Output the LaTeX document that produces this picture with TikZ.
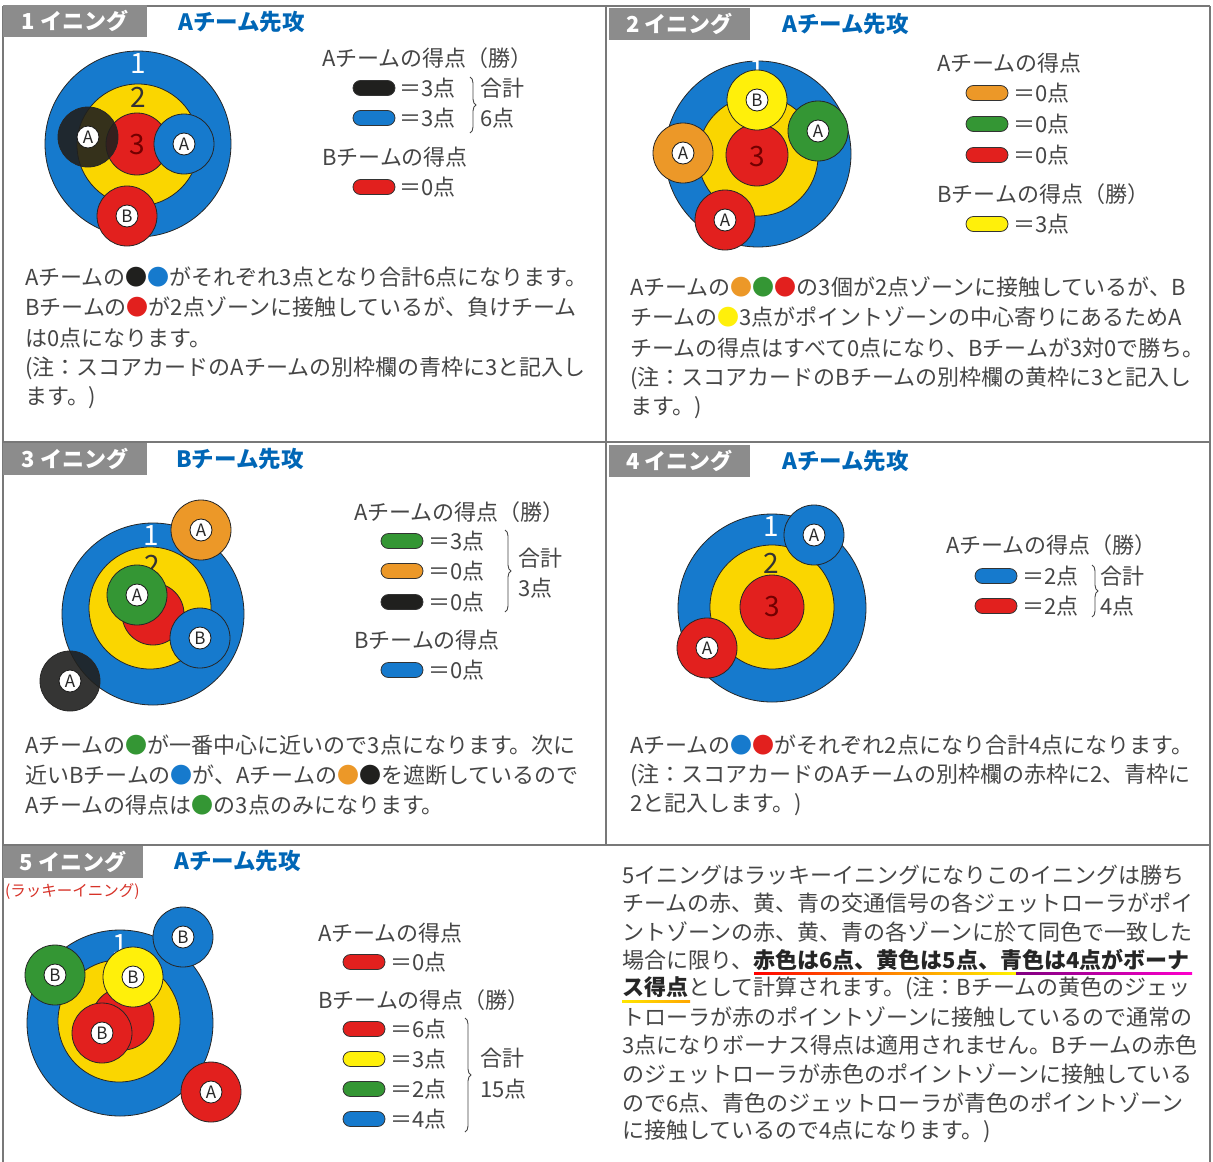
\documentclass[tikz,border=0pt]{standalone}
\usepackage{fontspec}
\setmainfont{Noto Sans CJK JP}
\usetikzlibrary{decorations.pathreplacing}
\definecolor{zblue}{RGB}{22,122,205}
\definecolor{zyellow}{RGB}{250,214,0}
\definecolor{zred}{RGB}{226,32,30}
\definecolor{bgreen}{RGB}{52,150,52}
\definecolor{borange}{RGB}{236,152,40}
\definecolor{bblack}{RGB}{32,32,30}
\definecolor{byellow}{RGB}{255,240,10}
\definecolor{hblue}{RGB}{0,102,182}
\definecolor{tabgray}{RGB}{140,140,140}
\definecolor{txtgray}{RGB}{70,70,70}
\definecolor{lineg}{RGB}{120,120,120}
\definecolor{luckyred}{RGB}{215,50,40}
\tikzset{
 zone/.style={draw=black!85, line width=0.8pt},
 ballsty/.style={circle, draw=black!85, line width=0.8pt, minimum size=60pt, inner sep=0pt},
 lbl/.style={circle, draw=black!90, fill=white, line width=0.8pt, minimum size=22pt, inner sep=0pt, font=\fontsize{17}{17}\selectfont, text=black!85},
 pill/.style={rectangle, rounded corners=7.5pt, draw=black!80, line width=0.8pt, minimum width=42pt, minimum height=15pt, inner sep=0pt},
 tabbox/.style={rectangle, fill=tabgray, minimum width=144pt, minimum height=32pt, inner sep=0pt, text=white, font=\bfseries\fontsize{22}{22}\selectfont},
 head/.style={anchor=west, inner sep=0pt, text=hblue, font=\bfseries\fontsize{22.5}{22.5}\selectfont},
 txt/.style={anchor=west, inner sep=0pt, text=txtgray, font=\fontsize{22}{22}\selectfont},
 leg/.style={anchor=west, inner sep=0pt, text=txtgray, font=\fontsize{22}{22}\selectfont},
 znum/.style={inner sep=0pt, font=\fontsize{28}{28}\selectfont},
 bracesty/.style={decorate, decoration={brace, amplitude=6pt}, draw=txtgray, line width=0.9pt},
 frame/.style={draw=lineg, line width=1.2pt}
}
\begin{document}
\begin{tikzpicture}[x=1pt,y=-1pt]
\useasboundingbox (0,0) rectangle (1213,1162);
\fill[white] (0,0) rectangle (1213,1162);
% frame lines
\draw[frame] (3,6) -- (1210,6);
\draw[frame] (3,6) -- (3,1162);
\draw[frame] (1210,6) -- (1210,1162);
\draw[frame] (606,6) -- (606,845);
\draw[frame] (3,442) -- (1210,442);
\draw[frame] (3,845) -- (1210,845);

% ================= Panel 1 =================
\node[tabbox] (t1) at (75,21) {1 イニング};
\node[head] (h1) at (178,22) {Aチーム先攻};
\draw[zone, fill=zblue] (138,144) circle (93pt);
\draw[zone, fill=zyellow] (138,145) circle (61pt);
\draw[zone, fill=zred] (137,144) circle (31pt);
\node[znum, text=white] (n1a) at (138,64) {1};
\node[znum, text=black!80] (n1b) at (138,97) {2};
\node[znum, text=red!45!black] (n1c) at (137,145) {3};
\node[ballsty, fill=bblack, fill opacity=0.9] (p1k) at (88,137) {};
\node[lbl] (p1kl) at (p1k) {A};
\node[ballsty, fill=zblue] (p1b) at (184,144) {};
\node[lbl] (p1bl) at (p1b) {A};
\node[ballsty, fill=zred] (p1r) at (127,216) {};
\node[lbl] (p1rl) at (p1r) {B};
% legend 1
\node[leg] (g1a) at (322,58) {Aチームの得点（勝）};
\node[pill, fill=bblack] (g1p1) at (374,88) {};
\node[leg] (g1t1) at (399,88) {＝3点};
\node[pill, fill=zblue] (g1p2) at (374,118) {};
\node[leg] (g1t2) at (399,118) {＝3点};
\draw[bracesty] (470,77) -- (470,133);
\node[leg] (g1s1) at (480,88) {合計};
\node[leg] (g1s2) at (480,118) {6点};
\node[leg] (g1b) at (322,157) {Bチームの得点};
\node[pill, fill=zred] (g1p3) at (374,187) {};
\node[leg] (g1t3) at (399,187) {＝0点};
% text 1
\node[txt] (x1a) at (25,277) {Aチームの\textcolor{bblack}{●}\textcolor{zblue}{●}がそれぞれ3点となり合計6点になります。};
\node[txt] (x1b) at (25,307) {Bチームの\textcolor{zred}{●}が2点ゾーンに接触しているが、負けチーム};
\node[txt] (x1c) at (25,338) {は0点になります。};
\node[txt] (x1d) at (25,368) {(注：スコアカードのAチームの別枠欄の青枠に3と記入し};
\node[txt] (x1e) at (25,398) {ます。)};

% ================= Panel 2 =================
\node[tabbox, minimum width=141pt] (t2) at (679.5,24) {2 イニング};
\node[head] (h2) at (782,24) {Aチーム先攻};
\draw[zone, fill=zblue] (758,154) circle (93pt);
\draw[zone, fill=zyellow] (758,156) circle (60pt);
\draw[zone, fill=zred] (757,155) circle (31pt);
\node[znum, text=white] (n2a) at (757,70) {1};
\node[znum, text=red!45!black] (n2c) at (757,157) {3};
\node[ballsty, fill=byellow] (p2y) at (757,100) {};
\node[lbl] (p2yl) at (p2y) {B};
\node[ballsty, fill=bgreen] (p2g) at (818,131) {};
\node[lbl] (p2gl) at (p2g) {A};
\node[ballsty, fill=borange] (p2o) at (683,153) {};
\node[lbl] (p2ol) at (p2o) {A};
\node[ballsty, fill=zred] (p2r) at (725,220) {};
\node[lbl] (p2rl) at (p2r) {A};
% legend 2
\node[leg] (g2a) at (937,63) {Aチームの得点};
\node[pill, fill=borange] (g2p1) at (987,93) {};
\node[leg] (g2t1) at (1013,93) {＝0点};
\node[pill, fill=bgreen] (g2p2) at (987,124) {};
\node[leg] (g2t2) at (1013,124) {＝0点};
\node[pill, fill=zred] (g2p3) at (987,155) {};
\node[leg] (g2t3) at (1013,155) {＝0点};
\node[leg] (g2b) at (937,194) {Bチームの得点（勝）};
\node[pill, fill=byellow] (g2p4) at (987,224) {};
\node[leg] (g2t4) at (1013,224) {＝3点};
% text 2
\node[txt] (x2a) at (630,287) {Aチームの\textcolor{borange}{●}\textcolor{bgreen}{●}\textcolor{zred}{●}の3個が2点ゾーンに接触しているが、B};
\node[txt] (x2b) at (630,317) {チームの\textcolor{byellow}{●}3点がポイントゾーンの中心寄りにあるためA};
\node[txt] (x2c) at (630,348) {チームの得点はすべて0点になり、Bチームが3対0で勝ち。};
\node[txt] (x2d) at (630,378) {(注：スコアカードのBチームの別枠欄の黄枠に3と記入し};
\node[txt] (x2e) at (630,408) {ます。)};

% ================= Panel 3 =================
\node[tabbox] (t3) at (75,459) {3 イニング};
\node[head] (h3) at (176,459) {Bチーム先攻};
\draw[zone, fill=zblue] (153,614) circle (91pt);
\draw[zone, fill=zyellow] (150,608) circle (61pt);
\draw[zone, fill=zred] (153,614) circle (31pt);
\node[znum, text=white] (n3a) at (151,536) {1};
\node[znum, text=black!80] (n3b) at (152,565) {2};
\node[ballsty, fill=bgreen] (p3g) at (137,595) {};
\node[lbl] (p3gl) at (p3g) {A};
\node[ballsty, fill=zblue] (p3b) at (200,638) {};
\node[lbl] (p3bl) at (p3b) {B};
\node[ballsty, fill=borange] (p3o) at (201,530) {};
\node[lbl] (p3ol) at (p3o) {A};
\node[ballsty, fill=bblack, fill opacity=0.9] (p3k) at (70,681) {};
\node[lbl] (p3kl) at (p3k) {A};
% legend 3
\node[leg] (g3a) at (354,512) {Aチームの得点（勝）};
\node[pill, fill=bgreen] (g3p1) at (402,541) {};
\node[leg] (g3t1) at (428,541) {＝3点};
\node[pill, fill=borange] (g3p2) at (402,571) {};
\node[leg] (g3t2) at (428,571) {＝0点};
\node[pill, fill=bblack] (g3p3) at (402,602) {};
\node[leg] (g3t3) at (428,602) {＝0点};
\draw[bracesty] (505,530) -- (505,612);
\node[leg] (g3s1) at (518,558) {合計};
\node[leg] (g3s2) at (518,588) {3点};
\node[leg] (g3b) at (354,640) {Bチームの得点};
\node[pill, fill=zblue] (g3p4) at (402,670) {};
\node[leg] (g3t4) at (428,670) {＝0点};
% text 3
\node[txt] (x3a) at (25,745) {Aチームの\textcolor{bgreen}{●}が一番中心に近いので3点になります。次に};
\node[txt] (x3b) at (25,775) {近いBチームの\textcolor{zblue}{●}が、Aチームの\textcolor{borange}{●}\textcolor{bblack}{●}を遮断しているので};
\node[txt] (x3c) at (25,805) {Aチームの得点は\textcolor{bgreen}{●}の3点のみになります。};

% ================= Panel 4 =================
\node[tabbox, minimum width=141pt] (t4) at (679.5,461) {4 イニング};
\node[head] (h4) at (782,461) {Aチーム先攻};
\draw[zone, fill=zblue] (772,608) circle (94pt);
\draw[zone, fill=zyellow] (772,607) circle (62pt);
\draw[zone, fill=zred] (772,607) circle (32pt);
\node[znum, text=white] (n4a) at (771,527) {1};
\node[znum, text=black!80] (n4b) at (771,563) {2};
\node[znum, text=red!45!black] (n4c) at (772,607) {3};
\node[ballsty, fill=zblue] (p4b) at (814,535) {};
\node[lbl] (p4bl) at (p4b) {A};
\node[ballsty, fill=zred] (p4r) at (707,648) {};
\node[lbl] (p4rl) at (p4r) {A};
% legend 4
\node[leg] (g4a) at (946,545) {Aチームの得点（勝）};
\node[pill, fill=zblue] (g4p1) at (996,576) {};
\node[leg] (g4t1) at (1022,576) {＝2点};
\node[pill, fill=zred] (g4p2) at (996,606) {};
\node[leg] (g4t2) at (1022,606) {＝2点};
\draw[bracesty] (1092,565) -- (1092,617);
\node[leg] (g4s1) at (1100,576) {合計};
\node[leg] (g4s2) at (1100,606) {4点};
% text 4
\node[txt] (x4a) at (630,745) {Aチームの\textcolor{zblue}{●}\textcolor{zred}{●}がそれぞれ2点になり合計4点になります。};
\node[txt] (x4b) at (630,775) {(注：スコアカードのAチームの別枠欄の赤枠に2、青枠に};
\node[txt] (x4c) at (630,805) {2と記入します。)};

% ================= Panel 5 =================
\node[tabbox, minimum width=140pt] (t5) at (73,862) {5 イニング};
\node[head] (h5) at (174,861) {Aチーム先攻};
\node[anchor=west, inner sep=0pt, text=luckyred, font=\fontsize{15.5}{15.5}\selectfont] (lk) at (5,891) {(ラッキーイニング)};
\draw[zone, fill=zblue] (120,1023) circle (93pt);
\draw[zone, fill=zyellow] (119,1021) circle (61pt);
\draw[zone, fill=zred] (123,1019) circle (31pt);
\node[znum, text=white] (n5a) at (120,945) {1};
\node[ballsty, fill=zred] (p5r) at (102,1033) {};
\node[lbl] (p5rl) at (p5r) {B};
\node[ballsty, fill=byellow] (p5y) at (133,977) {};
\node[lbl] (p5yl) at (p5y) {B};
\node[ballsty, fill=bgreen] (p5g) at (55,975) {};
\node[lbl] (p5gl) at (p5g) {B};
\node[ballsty, fill=zblue] (p5b) at (183,937) {};
\node[lbl] (p5bl) at (p5b) {B};
\node[ballsty, fill=zred] (p5a) at (211,1092) {};
\node[lbl] (p5al) at (p5a) {A};
% legend 5
\node[leg] (g5a) at (318,933) {Aチームの得点};
\node[pill, fill=zred] (g5p0) at (364,962) {};
\node[leg] (g5t0) at (390,962) {＝0点};
\node[leg] (g5b) at (318,1000) {Bチームの得点（勝）};
\node[pill, fill=zred] (g5p1) at (364,1029) {};
\node[leg] (g5t1) at (390,1029) {＝6点};
\node[pill, fill=byellow] (g5p2) at (364,1059) {};
\node[leg] (g5t2) at (390,1059) {＝3点};
\node[pill, fill=bgreen] (g5p3) at (364,1089) {};
\node[leg] (g5t3) at (390,1089) {＝2点};
\node[pill, fill=zblue] (g5p4) at (364,1119) {};
\node[leg] (g5t4) at (390,1119) {＝4点};
\draw[bracesty] (465,1018) -- (465,1132);
\node[leg] (g5s1) at (480,1058) {合計};
\node[leg] (g5s2) at (480,1089) {15点};
% text 5
\shade[left color=red, right color=orange] (754,972) rectangle (884,974);
\shade[left color=orange, right color=yellow!90!orange] (884,972) rectangle (1016,974);
\shade[left color=violet, right color=magenta!80!red] (1016,972) rectangle (1192,974);
\shade[left color=yellow!80!orange, right color=orange!70!yellow] (622,1000) rectangle (690,1002);
\node[txt] (x5a) at (622,875) {5イニングはラッキーイニングになりこのイニングは勝ち};
\node[txt] (x5b) at (622,903) {チームの赤、黄、青の交通信号の各ジェットローラがポイ};
\node[txt] (x5c) at (622,932) {ントゾーンの赤、黄、青の各ゾーンに於て同色で一致した};
\node[txt] (x5d) at (622,960) {場合に限り、\textbf{\color{black!85}赤色は6点、黄色は5点、青色は4点がボーナ}};
\node[txt] (x5e) at (622,988) {\textbf{\color{black!85}ス得点}として計算されます。(注：Bチームの黄色のジェッ};
\node[txt] (x5f) at (622,1017) {トローラが赤のポイントゾーンに接触しているので通常の};
\node[txt] (x5g) at (622,1045) {3点になりボーナス得点は適用されません。Bチームの赤色};
\node[txt] (x5h) at (622,1074) {のジェットローラが赤色のポイントゾーンに接触している};
\node[txt] (x5i) at (622,1103) {ので6点、青色のジェットローラが青色のポイントゾーン};
\node[txt] (x5j) at (622,1131) {に接触しているので4点になります。)};
\end{tikzpicture}
\end{document}
